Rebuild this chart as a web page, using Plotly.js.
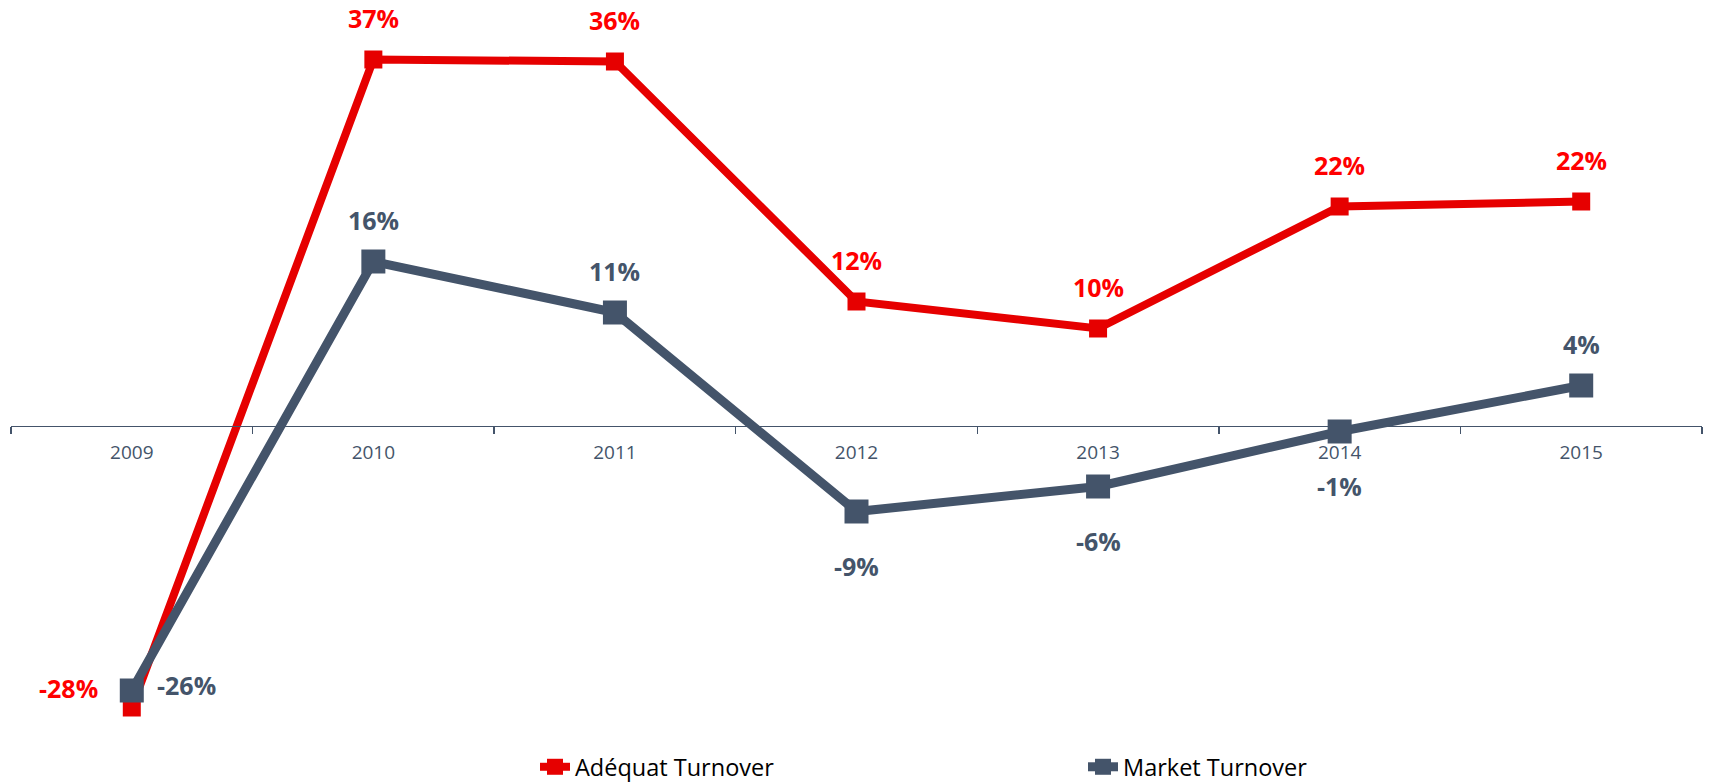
<!DOCTYPE html>
<html>
<head>
<meta charset="utf-8">
<script src="https://cdn.plot.ly/plotly-3.0.1.min.js"></script>
<style>html,body{margin:0;padding:0;background:#fff;}#chart{width:1714px;height:783px;}</style>
</head>
<body>
<div id="chart"></div>
<script>
// ---- data ----
const years = ['2009', '2010', '2011', '2012', '2013', '2014', '2015'];
const adequatValues = [-0.282, 0.366, 0.364, 0.124, 0.097, 0.219, 0.224];
const marketValues = [-0.265, 0.164, 0.113, -0.086, -0.061, -0.006, 0.040];
const adequatLabels = ['-28%', '37%', '36%', '12%', '10%', '22%', '22%'];
const marketLabels = ['-26%', '16%', '11%', '-9%', '-6%', '-1%', '4%'];
const adequatLabelSide = ['left', 'above', 'above', 'above', 'above', 'above', 'above'];
const marketLabelSide = ['right', 'above', 'above', 'below', 'below', 'below', 'above'];
const seriesNames = ['Adéquat Turnover', 'Market Turnover'];

// ---- style ----
const RED = '#e60000';
const RED_TEXT = '#ff0000';
const SLATE = '#44546a';
const yRange = [-0.2945, 0.4055];

const placements = {
  above: {xanchor: 'center', yanchor: 'middle', xshift: 0, yshift: 42},
  below: {xanchor: 'center', yanchor: 'middle', xshift: 0, yshift: -54},
  left: {xanchor: 'right', yanchor: 'middle', xshift: -32, yshift: 20},
  right: {xanchor: 'left', yanchor: 'middle', xshift: 23, yshift: 6}
};

function makeLabels(vals, labels, sides, color) {
  // x given as category index (year strings look numeric to the category axis)
  return vals.map((v, i) => Object.assign({
    x: years.indexOf(years[i]), y: v, xref: 'x', yref: 'y', text: labels[i], showarrow: false,
    font: {family: 'Open Sans, sans-serif', size: 25, color: color, weight: 700}
  }, placements[sides[i]]));
}

const traces = [
  {
    x: years, y: adequatValues, name: seriesNames[0], type: 'scatter', mode: 'lines+markers',
    line: {color: RED, width: 8}, marker: {symbol: 'square', size: 18, color: RED},
    legend: 'legend', cliponaxis: false, hoverinfo: 'skip'
  },
  {
    x: years, y: marketValues, name: seriesNames[1], type: 'scatter', mode: 'lines+markers',
    line: {color: SLATE, width: 9}, marker: {symbol: 'square', size: 24, color: SLATE},
    legend: 'legend2', cliponaxis: false, hoverinfo: 'skip'
  }
];

const legendFont = {family: 'Open Sans, sans-serif', size: 23.5, color: '#000'};
const layout = {
  width: 1714, height: 783,
  margin: {l: 11, r: 12, t: 20, b: 63},
  paper_bgcolor: '#fff', plot_bgcolor: '#fff',
  showlegend: true,
  xaxis: {
    type: 'category', range: [-0.5, 6.5], anchor: 'free',
    position: (0 - yRange[0]) / (yRange[1] - yRange[0]),
    showline: true, linecolor: SLATE, linewidth: 1.5,
    ticks: 'outside', tickson: 'boundaries', ticklen: 7, tickwidth: 1.5, tickcolor: SLATE,
    ticklabelstandoff: 9,
    showgrid: false, zeroline: false,
    tickfont: {family: 'Open Sans, sans-serif', size: 19, color: SLATE}
  },
  yaxis: {range: yRange, visible: false, showgrid: false, zeroline: false},
  legend: {
    xref: 'container', yref: 'container', x: 535 / 1714, y: 1 - 767 / 783,
    xanchor: 'left', yanchor: 'middle', orientation: 'h', font: legendFont,
    bgcolor: 'rgba(0,0,0,0)'
  },
  legend2: {
    xref: 'container', yref: 'container', x: 1083 / 1714, y: 1 - 767 / 783,
    xanchor: 'left', yanchor: 'middle', orientation: 'h', font: legendFont,
    bgcolor: 'rgba(0,0,0,0)'
  },
  annotations: makeLabels(adequatValues, adequatLabels, adequatLabelSide, RED_TEXT)
    .concat(makeLabels(marketValues, marketLabels, marketLabelSide, SLATE))
};

Plotly.newPlot('chart', traces, layout, {staticPlot: true, displayModeBar: false});
</script>
</body>
</html>
